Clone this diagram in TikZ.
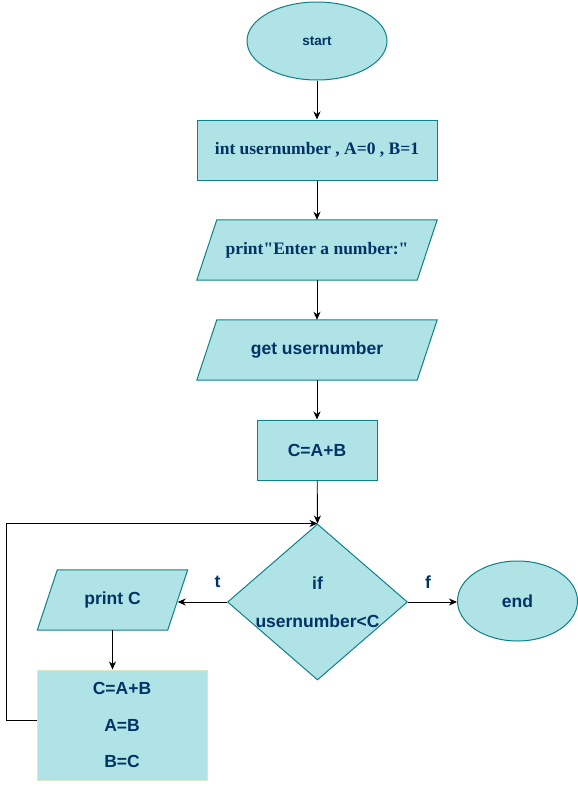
\documentclass[tikz,border=0pt]{standalone}
\usepackage{fontspec}
\setmainfont{Liberation Serif}
\setsansfont{Liberation Sans}
\usetikzlibrary{shapes.geometric, arrows.meta, calc, backgrounds}

\definecolor{boxfill}{HTML}{B0E3E6}
\definecolor{boxline}{HTML}{0E8088}
\definecolor{boxtext}{HTML}{003366}
\definecolor{paleline}{HTML}{D8E8C8}

\tikzset{
  sanstext/.style={text=boxtext, font=\sffamily\bfseries\fontsize{17.5}{21}\selectfont},
  serftext/.style={text=boxtext, font=\rmfamily\bfseries\fontsize{17.5}{21}\selectfont},
  terminal/.style={ellipse, draw=boxline, fill=boxfill, line width=1pt, inner sep=0pt, sanstext},
  process/.style={rectangle, draw=boxline, fill=boxfill, line width=1pt, inner sep=0pt, minimum height=60pt},
  iobox/.style={rectangle, inner sep=0pt, minimum height=60pt},
  iofill/.style={draw=boxline, fill=boxfill, line width=1pt},
  decision/.style={diamond, draw=boxline, fill=boxfill, line width=1pt, inner sep=-12pt,
    minimum width=180pt, minimum height=156pt, align=center, sanstext},
  flow/.style={-{Stealth[length=8pt, width=7pt, inset=2.5pt]}, line width=0.9pt}
}

\begin{document}
\begin{tikzpicture}[x=1pt, y=-1pt]
	\useasboundingbox (0,0) rectangle (578,788);

	% nodes
	\node [terminal, minimum width=140pt, minimum height=78pt, font=\sffamily\bfseries\fontsize{13.5}{16}\selectfont] (start) at (317,41) {start};
	\node [process, minimum width=240pt, serftext] (init) at (317,150) {int usernumber , A=0 , B=1};
	\node [iobox, minimum width=220pt, serftext] (prompt) at (317,250) {print\textquotedbl Enter a number:\textquotedbl};
	\node [iobox, minimum width=220pt, sanstext] (getnum) at (317,350) {get usernumber};
	\node [process, minimum width=120pt, sanstext] (sum) at (317,450) {C=A+B};
	\node [decision] (test) at (317.5,602) {if\\[17pt]usernumber<C};
	\node [terminal, minimum width=120pt, minimum height=80pt] (end) at (517.5,601) {end};
	\node [iobox, minimum width=130pt, sanstext] (printc) at (112.5,600) {print C};
	\node [rectangle, draw=paleline, fill=boxfill, line width=1pt, minimum width=170pt, minimum height=110pt,
		align=center, sanstext] (update) at (122,725) {C=A+B\\[15.5pt]A=B\\[15.5pt]B=C};

	\node [sanstext] (tlabel) at (217.5,582) {t};
	\node [sanstext] (flabel) at (428,582) {f};

	% slanted boxes for input/output
	\begin{pgfonlayer}{background}
		\foreach \n in {prompt, getnum, printc}
			\draw [iofill] ($(\n.north west)+(10,0)$) -- ($(\n.north east)+(10,0)$) -- ($(\n.south east)+(-10,0)$) -- ($(\n.south west)+(-10,0)$) -- cycle;
	\end{pgfonlayer}

	% connectors
	\draw [flow] (start) -- (init);
	\draw [flow] (init) -- (prompt);
	\draw [flow] (prompt) -- (getnum);
	\draw [flow] (getnum) -- (sum);
	\draw [flow] (sum) -- (test.north);
	\draw [flow] (test.west) -- (test.west -| printc.east);
	\draw [flow] (test.east) -- (test.east -| end.west);
	\draw [flow] (printc) -- (printc |- update.north);
	\draw [flow] ([yshift=5pt]update.west) -- ++(-30,0) |- (test.north);
\end{tikzpicture}
\end{document}
